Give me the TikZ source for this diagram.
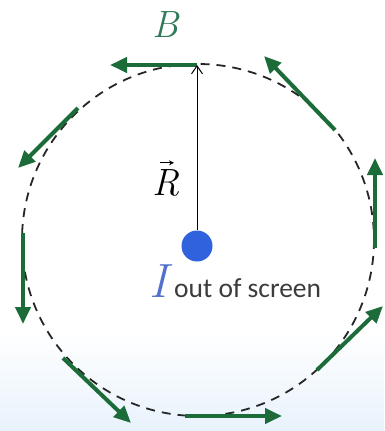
\documentclass[tikz,border=0pt]{standalone}
\usepackage{fontspec}
\newfontfamily\calib{Carlito}
\usetikzlibrary{arrows.meta}
\definecolor{bgreen}{RGB}{28,108,58}
\definecolor{btext}{RGB}{48,122,88}
\definecolor{dotblue}{RGB}{48,98,222}
\definecolor{iblue}{RGB}{82,112,205}
\definecolor{bgblue}{RGB}{232,242,252}
\definecolor{txtgray}{RGB}{60,60,60}
\tikzset{
  barrow/.style={draw=bgreen, line width=4pt, -{Triangle[length=17pt,width=15pt]}},
  loop/.style={draw=black!85, line width=1.8pt, dash pattern=on 9pt off 7pt},
}
\begin{document}
\begin{tikzpicture}[x=1pt,y=-1pt]
\useasboundingbox (0,0) rectangle (384,431);
\fill[white] (0,0) rectangle (384,431);
\shade[top color=white, bottom color=bgblue] (0,330) rectangle (384,431);
\coordinate (c) at (198,240);
\draw[loop] (c) circle[radius=176];
% field arrows
\coordinate (t1) at (197,65);  \coordinate (h1) at (110,65);
\coordinate (t2) at (78,108);  \coordinate (h2) at (18,168);
\coordinate (t3) at (23,233);  \coordinate (h3) at (23,324);
\coordinate (t4) at (63,358);  \coordinate (h4) at (131,423);
\coordinate (t5) at (185,416); \coordinate (h5) at (282,416);
\coordinate (t6) at (317,370); \coordinate (h6) at (383,306);
\coordinate (t7) at (375,248); \coordinate (h7) at (375,158);
\coordinate (t8) at (335,130); \coordinate (h8) at (264,56);
\foreach \i in {1,...,8} \draw[barrow] (t\i) -- (h\i);
% wire
\node[circle, fill=dotblue, minimum size=31pt, inner sep=0] (dot) at (197,246) {};
\coordinate (rtop) at (197,65);
\draw[black, line width=1pt, -{Straight Barb[length=8pt,width=11pt]}] (dot.north) -- (rtop);
\node[anchor=base, inner sep=0, font=\itshape\fontsize{38}{40}\selectfont] (R) at (166,195) {R};
\draw[black, line width=1.2pt, -{Stealth[length=5pt,width=5pt]}] ([shift={(-6,-6)}]R.north) -- ([shift={(8,-6)}]R.north);
\node[anchor=base, inner sep=0, text=btext, font=\itshape\fontsize{38}{40}\selectfont] (B) at (166,37) {B};
\node[anchor=base, inner sep=0, text=iblue, font=\itshape\fontsize{48}{50}\selectfont] (I) at (159,297) {I};
\node[anchor=base west, inner sep=0, text=txtgray, font=\calib\fontsize{27.5}{30}\selectfont] (lab) at (174,297) {out of screen};
\end{tikzpicture}
\end{document}
